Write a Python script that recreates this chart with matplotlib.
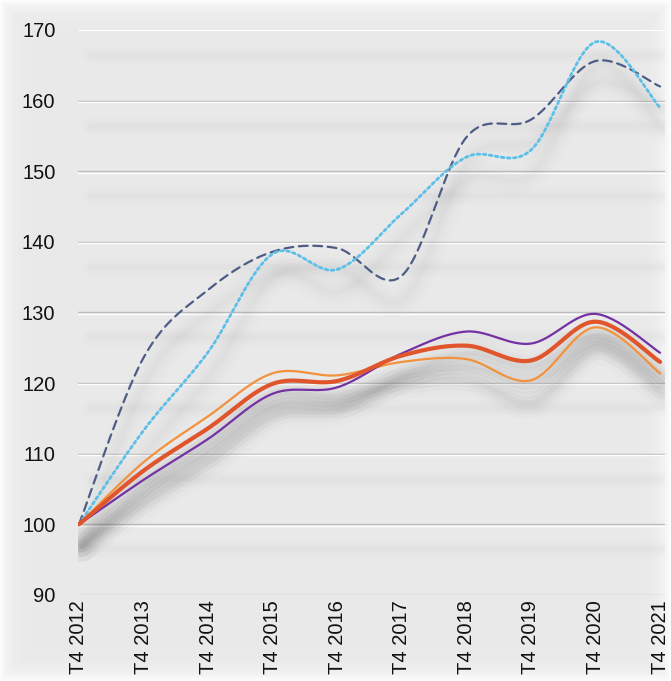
import numpy as np
import matplotlib
matplotlib.use("Agg")
import matplotlib.pyplot as plt
from matplotlib.transforms import offset_copy

plt.rcParams['font.family'] = ['Liberation Sans', 'DejaVu Sans']

anni = ["T4 2012", "T4 2013", "T4 2014", "T4 2015", "T4 2016",
        "T4 2017", "T4 2018", "T4 2019", "T4 2020", "T4 2021"]

# indici base 100 = T4 2012
serie_viola = [100, 106.3, 112.1, 118.5, 119.4, 124.2, 127.3, 125.6, 129.8, 124.3]
serie_rossa = [100, 107.6, 113.6, 119.9, 120.3, 123.9, 125.3, 123.2, 128.7, 123.0]
serie_arancio = [100, 108.8, 115.3, 121.4, 121.1, 123.0, 123.4, 120.4, 127.9, 121.4]
serie_tratteggio = [100, 123.6, 133.2, 138.6, 139.1, 135.2, 154.8, 157.3, 165.6, 162.0]
serie_punti = [100, 113.3, 124.4, 138.3, 136.1, 144.0, 152.0, 153.0, 168.3, 159.0]

yticks = [90, 100, 110, 120, 130, 140, 150, 160, 170]


def smussa(y, n=30):
    # curva smussata tipo Excel (bezier con tangenti catmull-rom)
    x = np.arange(len(y), dtype=float)
    y = np.asarray(y, dtype=float)
    P = np.column_stack([x, y])
    P = np.vstack([P[0], P, P[-1]])
    out = []
    t = np.linspace(0, 1, n)[:, None]
    for i in range(1, len(P) - 2):
        p0, p1, p2, p3 = P[i - 1], P[i], P[i + 1], P[i + 2]
        b1 = p1 + (p2 - p0) / 6
        b2 = p2 - (p3 - p1) / 6
        seg = ((1 - t) ** 3) * p1 + 3 * ((1 - t) ** 2) * t * b1 + 3 * (1 - t) * t ** 2 * b2 + t ** 3 * p2
        out.append(seg if i == 1 else seg[1:])
    out = np.vstack(out)
    return out[:, 0], out[:, 1]


W, H = 671, 681
fig = plt.figure(figsize=(W / 100, H / 100), dpi=100)
fig.patch.set_facecolor("#e9e9e9")

# sfumatura bianca sui bordi
bg = fig.add_axes([0, 0, 1, 1])
bg.set_axis_off()
xx, yy = np.meshgrid(np.arange(W), np.arange(H))
d = np.minimum.reduce([xx, yy, W - 1 - xx, H - 1 - yy]).astype(float)
alpha = np.exp(-d / 9.0) * 0.95
img = np.ones((H, W, 4))
img[..., 3] = alpha
bg.imshow(img, extent=[0, 1, 0, 1], aspect="auto")
bg.set_xlim(0, 1)
bg.set_ylim(0, 1)

ax = fig.add_axes([0.1158, 0.1263, 0.8756, 0.8297])
ax.set_facecolor("none")
ax.set_xlim(-0.02, 9.08)
ax.set_ylim(90, 170)
for s in ax.spines.values():
    s.set_visible(False)

# griglia con ombra
ombra_g = offset_copy(ax.transData, fig=fig, x=4, y=-25, units="dots")
for v in yticks:
    for lw, a in [(12, 0.018), (8, 0.025), (4, 0.03)]:
        ax.plot([0.12, 9.0], [v, v], color="#9a9a9a", lw=lw, alpha=a,
                solid_capstyle="round", transform=ombra_g, zorder=1)
bianco = offset_copy(ax.transData, fig=fig, x=0, y=-1.3, units="dots")
x0, x1 = ax.get_xlim()
for v in yticks:
    if v == 170:
        ax.plot([x0, x1], [v, v], color="#ffffff", lw=1.4, zorder=2)
    else:
        ax.plot([x0, x1], [v, v], color="#bdbdbd", lw=1.0, zorder=2)
        ax.plot([x0, x1], [v, v], color="#ffffff", lw=1.0, zorder=2, transform=bianco)

serie = [
    (serie_tratteggio, "#4e5d86", 1.6, (0, (4, 2.5))),
    (serie_punti, "#5cbfe8", 2.0, (0, (1, 1.2))),
    (serie_arancio, "#f3913c", 1.6, "-"),
    (serie_viola, "#7331a3", 1.6, "-"),
    (serie_rossa, "#e0552b", 3.0, "-"),
]

# ombre delle linee
ombra = offset_copy(ax.transData, fig=fig, x=3, y=-22, units="dots")
for vals, col, lw, ls in serie:
    xs, ys = smussa(vals)
    forza = 1.0 if ls == "-" else 0.45
    for w, a in [(22, 0.02), (15, 0.03), (9, 0.04), (4, 0.04)]:
        ax.plot(xs, ys, color="#505050", lw=w, alpha=a * forza,
                solid_capstyle="round", solid_joinstyle="round",
                transform=ombra, zorder=3)

for vals, col, lw, ls in serie:
    xs, ys = smussa(vals)
    ax.plot(xs, ys, color=col, lw=lw, linestyle=ls, zorder=5,
            solid_capstyle="round", dash_capstyle="round")

ax.set_xlim(x0, x1)
ax.set_yticks(yticks)
ax.set_yticklabels([str(v) for v in yticks])
ax.set_xticks(range(len(anni)))
ax.set_xticklabels(anni, rotation=90, va="top", ha="center")
ax.tick_params(axis="y", length=0, pad=16, labelsize=14.5, colors="#111111")
ax.tick_params(axis="x", length=0, pad=4, labelsize=14.5, colors="#111111")

fig.savefig("out.png", dpi=100, facecolor=fig.get_facecolor())
